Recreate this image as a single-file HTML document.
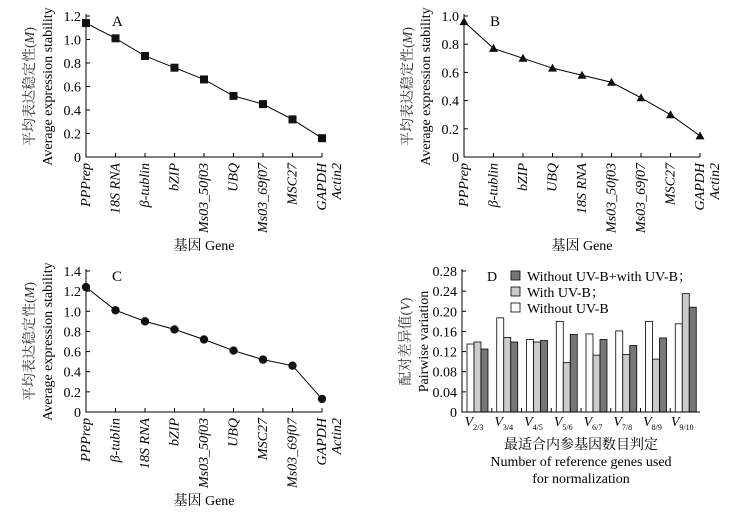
<!DOCTYPE html>
<html><head><meta charset="utf-8"><style>
html,body{margin:0;padding:0;background:#fff;font-family:"Liberation Serif","Times New Roman","Tinos","DejaVu Serif","Noto Serif CJK SC",serif;}
svg{display:block;}
</style></head><body>
<svg id="fig" width="751" height="513" viewBox="0 0 751 513" xmlns="http://www.w3.org/2000/svg"></svg>
<script>
const genesA = ["PPPrep","18S RNA","β-tublin","bZIP","Ms03_50f03","UBQ","Ms03_69f07","MSC27","GAPDH|Actin2"];
const valuesA = [1.14,1.01,0.86,0.76,0.66,0.52,0.45,0.32,0.16];
const ticksA = [0,0.2,0.4,0.6,0.8,1.0,1.2];
const genesB = ["PPPrep","β-tublin","bZIP","UBQ","18S RNA","Ms03_50f03","Ms03_69f07","MSC27","GAPDH|Actin2"];
const valuesB = [0.96,0.77,0.70,0.63,0.58,0.53,0.42,0.30,0.15];
const ticksB = [0,0.2,0.4,0.6,0.8,1.0];
const genesC = ["PPPrep","β-tublin","18S RNA","bZIP","Ms03_50f03","UBQ","MSC27","Ms03_69f07","GAPDH|Actin2"];
const valuesC = [1.24,1.01,0.90,0.82,0.72,0.61,0.52,0.46,0.13];
const ticksC = [0,0.2,0.4,0.6,0.8,1.0,1.2,1.4];
const catsD = [["2/3"],["3/4"],["4/5"],["5/6"],["6/7"],["7/8"],["8/9"],["9/10"]];
const withoutUV = [0.135,0.187,0.144,0.180,0.155,0.161,0.180,0.175];
const withUV = [0.139,0.148,0.139,0.098,0.113,0.114,0.105,0.235];
const combinedUV = [0.125,0.139,0.142,0.154,0.144,0.132,0.147,0.208];
const ticksD = [0,0.04,0.08,0.12,0.16,0.20,0.24,0.28];
const ticksDLabels = ["0","0.04","0.08","0.12","0.16","0.20","0.24","0.28"];

const FF='"Liberation Serif", "Times New Roman", Tinos, "DejaVu Serif", "Noto Serif CJK SC", serif';
const NS="http://www.w3.org/2000/svg";
const svg=document.getElementById('fig');
function mk(tag,attrs,parent,text){const e=document.createElementNS(NS,tag);for(const k in attrs)e.setAttribute(k,attrs[k]);if(tag==='text'){e.setAttribute('font-family',FF);e.style.fontFamily=FF;}if(text!==undefined)e.textContent=text;(parent||svg).appendChild(e);return e;}

function linePanel(opt){
  const g=mk('g',{});
  
  
  const x0=opt.x0,x1=opt.x1,y0=opt.y0,yTop=opt.yTop,max=opt.ticks[opt.ticks.length-1];
  const ys=v=>y0-(v/max)*(y0-yTop);
  const n=opt.genes.length;
  const xs=i=>x0+i*(x1-x0)/(n-1);
  const ax=mk('path',{d:`M${x0} ${yTop-2}V${y0}H${x1}`,stroke:'#000','stroke-width':1,fill:'none'},g);
  
  
  opt.ticks.forEach(t=>{
    const y=ys(t);
    mk('line',{x1:x0,x2:x0+4,y1:y,y2:y,stroke:'#000'},g);
    const tl=mk('text',{x:x0-5,y:y+5,'text-anchor':'end','font-size':14},g,t===0?'0':t.toFixed(1));
    
    
  });
  for(let i=1;i<n;i++){mk('line',{x1:xs(i),x2:xs(i),y1:y0,y2:y0-4,stroke:'#000'},g);}
  opt.genes.forEach((gn,i)=>{
    const parts=gn.split('|');
    parts.forEach((p,j)=>{
      const tx=xs(i)+4+j*15, ty=y0+6;
      const t=mk('text',{x:tx,y:ty,transform:`rotate(-90 ${tx} ${ty})`,'text-anchor':'end','font-size':14,'font-style':'italic'},g,p);
      
      
    });
  });
  const pts=opt.values.map((v,i)=>`${xs(i)},${ys(v)}`).join(' ');
  const pl=mk('polyline',{points:pts,fill:'none',stroke:'#000','stroke-width':1},g);
  
  
  opt.values.forEach((v,i)=>{
    const x=xs(i),y=ys(v);let m;
    if(opt.marker==='square')m=mk('rect',{x:x-4,y:y-4,width:8,height:8,fill:'#111'},g);
    else if(opt.marker==='tri')m=mk('path',{d:`M${x} ${y-4.5}L${x+4.5} ${y+3.5}L${x-4.5} ${y+3.5}Z`,fill:'#111'},g);
    else m=mk('circle',{cx:x,cy:y,r:4.2,fill:'#111'},g);
    
    
  });
  const lb=mk('text',{x:x0+26,y:yTop+10,'font-size':15},g,opt.letter);
  
  
  const cy=(y0+yTop)/2;
  const t1=mk('text',{x:x0-52,y:cy,transform:`rotate(-90 ${x0-52} ${cy})`,'text-anchor':'middle','font-size':14,fill:'#333'},g);
  t1.innerHTML='平均表达稳定性(<tspan font-style="italic">M</tspan>)';
  
  
  const t2=mk('text',{x:x0-34,y:cy,transform:`rotate(-90 ${x0-34} ${cy})`,'text-anchor':'middle','font-size':14},g,'Average expression stability');
  
  
  const xt=mk('text',{x:(x0+x1)/2,y:opt.titleY,'text-anchor':'middle','font-size':14},g,'基因 Gene');
  
  
}
linePanel({name:'panel-a',letter:'A',x0:86,x1:322,y0:157,yTop:16,ticks:ticksA,genes:genesA,values:valuesA,marker:'square',titleY:250});
linePanel({name:'panel-b',letter:'B',x0:464,x1:700,y0:157,yTop:16,ticks:ticksB,genes:genesB,values:valuesB,marker:'tri',titleY:250});
linePanel({name:'panel-c',letter:'C',x0:86,x1:322,y0:412,yTop:271,ticks:ticksC,genes:genesC,values:valuesC,marker:'circle',titleY:505});

(function(){
  const g=mk('g',{});
  
  
  const x0=462,x1=700,y0=412,yTop=271,max=0.28;
  const ys=v=>y0-(v/max)*(y0-yTop);
  const gw=(x1-x0)/catsD.length, bw=7;
  const series=[[withoutUV,'#fff','bar-without-uvb'],[withUV,'#ccc','bar-with-uvb'],[combinedUV,'#777','bar-combined']];
  catsD.forEach((c,i)=>{
    series.forEach((s,j)=>{
      const v=s[0][i];
      const r=mk('rect',{x:x0+5+i*gw+j*bw,y:ys(v),width:bw,height:y0-ys(v),fill:s[1],stroke:'#000','stroke-width':0.8},g);
      
      
    });
    const t=mk('text',{x:x0+i*gw+12,y:y0+14,'text-anchor':'middle','font-size':14,'font-style':'italic'},g);
    t.innerHTML='V<tspan font-size="8" font-style="normal" dy="4">'+c[0]+'</tspan>';
    
    
  });
  const ax=mk('path',{d:`M${x0} ${yTop-2}V${y0}H${x1}`,stroke:'#000',fill:'none'},g);
  
  
  ticksD.forEach((t,k)=>{
    const y=ys(t);
    mk('line',{x1:x0,x2:x0+4,y1:y,y2:y,stroke:'#000'},g);
    const tl=mk('text',{x:x0-5,y:y+5,'text-anchor':'end','font-size':14},g,ticksDLabels[k]);
    
    
  });
  for(let i=1;i<catsD.length;i++)mk('line',{x1:x0+i*gw,x2:x0+i*gw,y1:y0,y2:y0-4,stroke:'#000'},g);
  const lb=mk('text',{x:487,y:281,'font-size':14},g,'D');
  
  
  const leg=[['#777','Without UV-B+with UV-B；'],['#ccc','With UV-B；'],['#fff','Without UV-B']];
  leg.forEach((l,k)=>{
    const y=271+k*16;
    const b=mk('rect',{x:511,y:y,width:9,height:9,fill:l[0],stroke:'#000','stroke-width':0.8},g);
    
    
    const t=mk('text',{x:527,y:y+10,'font-size':14},g,l[1]);
    
    
  });
  const cy=(y0+yTop)/2;
  const t1=mk('text',{x:x0-52,y:cy,transform:`rotate(-90 ${x0-52} ${cy})`,'text-anchor':'middle','font-size':14,fill:'#333'},g);
  t1.innerHTML='配对差异值(<tspan font-style="italic">V</tspan>)';
  
  
  const t2=mk('text',{x:x0-34,y:cy,transform:`rotate(-90 ${x0-34} ${cy})`,'text-anchor':'middle','font-size':14},g,'Pairwise variation');
  
  
  const lines=['最适合内参基因数目判定','Number of reference genes used','for normalization'];
  lines.forEach((s,k)=>{
    const t=mk('text',{x:581,y:449+k*17,'text-anchor':'middle','font-size':14},g,s);
    
    
  });
})();
</script>
</body></html>
